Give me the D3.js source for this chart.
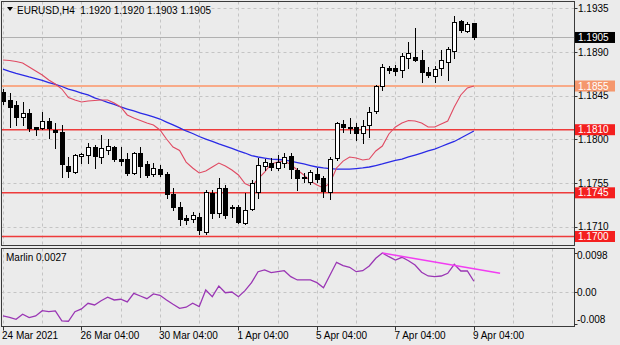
<!DOCTYPE html>
<html><head><meta charset="utf-8">
<script src="https://cdnjs.cloudflare.com/ajax/libs/d3/7.8.5/d3.min.js"></script>
<style>html,body{margin:0;padding:0;background:#ebebeb;} svg{display:block;}</style>
</head><body><svg id="c" width="620" height="345"></svg>
<script>
// ---------- DATA ----------
const symbol = "EURUSD,H4";
const headerOHLC = ["1.1920", "1.1920", "1.1903", "1.1905"];
const open = [1.18488,1.18406,1.18355,1.18231,1.18272,1.18123,1.18118,1.18190,1.18097,1.18076,
1.17726,1.17664,1.17829,1.17839,1.17922,1.17819,1.17891,1.17922,1.17798,1.17798,
1.17654,1.17860,1.17747,1.17644,1.17695,1.17644,1.17438,1.17304,1.17190,1.17179,
1.17201,1.17046,1.17448,1.17242,1.17500,1.17299,1.17304,1.17139,1.17283,1.17459,
1.17726,1.17757,1.17706,1.17757,1.17829,1.17685,1.17618,1.17562,1.17644,1.17603,
1.17459,1.17808,1.18159,1.18118,1.18128,1.18066,1.18149,1.18293,1.18550,1.18736,
1.18736,1.18715,1.18839,1.18849,1.18818,1.18694,1.18653,1.18736,1.18797,1.18911,
1.19220,1.19117,1.19200];
const high = [1.18519,1.18478,1.18396,1.18385,1.18313,1.18128,1.18282,1.18221,1.18169,1.18149,
1.17819,1.17850,1.17860,1.17963,1.17943,1.18046,1.18004,1.17932,1.17922,1.17860,
1.17870,1.17922,1.17777,1.17757,1.17736,1.17664,1.17500,1.17355,1.17221,1.17252,
1.17242,1.17479,1.17479,1.17603,1.17531,1.17325,1.17325,1.17448,1.17582,1.17808,
1.17798,1.17808,1.17839,1.17860,1.17860,1.17706,1.17654,1.17685,1.17706,1.17623,
1.17819,1.18179,1.18200,1.18221,1.18169,1.18200,1.18334,1.18561,1.18777,1.18756,
1.18766,1.18890,1.19003,1.19148,1.18921,1.18746,1.18756,1.18921,1.18952,1.19271,
1.19230,1.19209,1.19200];
const low = [1.18365,1.18128,1.18149,1.18149,1.18087,1.18046,1.18112,1.18015,1.17912,1.17613,
1.17613,1.17654,1.17757,1.17757,1.17706,1.17757,1.17850,1.17777,1.17736,1.17634,
1.17644,1.17613,1.17613,1.17623,1.17623,1.17397,1.17273,1.17118,1.17128,1.17149,
1.17026,1.17026,1.17190,1.17201,1.17190,1.17201,1.17139,1.17128,1.17273,1.17397,
1.17685,1.17685,1.17685,1.17716,1.17603,1.17479,1.17562,1.17541,1.17562,1.17407,
1.17387,1.17788,1.18076,1.18066,1.17994,1.17963,1.18025,1.18272,1.18509,1.18684,
1.18663,1.18643,1.18736,1.18808,1.18591,1.18643,1.18591,1.18663,1.18612,1.18839,
1.19106,1.19106,1.19030];
const close = [1.18396,1.18334,1.18231,1.18272,1.18118,1.18112,1.18190,1.18118,1.18076,1.17747,
1.17675,1.17839,1.17850,1.17922,1.17829,1.17912,1.17932,1.17798,1.17777,1.17654,
1.17860,1.17726,1.17634,1.17706,1.17644,1.17438,1.17304,1.17179,1.17169,1.17221,
1.17067,1.17459,1.17242,1.17500,1.17221,1.17289,1.17149,1.17273,1.17551,1.17736,
1.17767,1.17716,1.17767,1.17819,1.17695,1.17603,1.17608,1.17664,1.17593,1.17469,
1.17798,1.18169,1.18128,1.18128,1.18066,1.18138,1.18282,1.18550,1.18746,1.18715,
1.18705,1.18859,1.18890,1.18818,1.18694,1.18663,1.18725,1.18818,1.18931,1.19209,
1.19127,1.19189,1.19050];
const maFast = [1.18818,1.18813,1.18803,1.18787,1.18746,1.18705,1.18663,1.18612,1.18571,1.18519,
1.18432,1.18406,1.18385,1.18396,1.18401,1.18406,1.18406,1.18375,1.18334,1.18252,
1.18221,1.18195,1.18169,1.18149,1.18097,1.18004,1.17922,1.17886,1.17767,1.17706,
1.17654,1.17675,1.17716,1.17757,1.17726,1.17685,1.17634,1.17546,1.17515,1.17593,
1.17664,1.17747,1.17767,1.17777,1.17742,1.17685,1.17634,1.17572,1.17531,1.17500,
1.17551,1.17706,1.17777,1.17819,1.17808,1.17788,1.17798,1.17881,1.17932,1.18056,
1.18128,1.18169,1.18195,1.18190,1.18169,1.18128,1.18128,1.18159,1.18190,1.18334,
1.18458,1.18530,1.18550];
const maSlow = [1.18725,1.18700,1.18679,1.18663,1.18643,1.18627,1.18607,1.18586,1.18566,1.18545,
1.18519,1.18499,1.18478,1.18458,1.18427,1.18406,1.18381,1.18360,1.18334,1.18313,
1.18293,1.18272,1.18252,1.18231,1.18210,1.18179,1.18149,1.18118,1.18087,1.18061,
1.18030,1.18004,1.17979,1.17953,1.17932,1.17907,1.17881,1.17860,1.17834,1.17819,
1.17808,1.17798,1.17793,1.17788,1.17777,1.17762,1.17747,1.17731,1.17716,1.17706,
1.17700,1.17695,1.17695,1.17695,1.17700,1.17706,1.17716,1.17731,1.17747,1.17767,
1.17783,1.17798,1.17819,1.17839,1.17860,1.17881,1.17901,1.17927,1.17953,1.17979,
1.18015,1.18051,1.18087];
const marlin = [-0.00603,-0.00636,-0.00686,-0.00560,-0.00646,-0.00603,-0.00470,-0.00495,-0.00477,-0.00729,
-0.00736,-0.00495,-0.00427,-0.00284,-0.00327,-0.00219,-0.00133,-0.00201,-0.00183,-0.00251,
-0.00033,-0.00101,-0.00168,-0.00050,-0.00083,-0.00201,-0.00309,-0.00410,-0.00384,-0.00284,
-0.00369,0.00050,-0.00118,0.00151,-0.00018,0.00000,-0.00118,0.00033,0.00234,0.00510,
0.00553,0.00485,0.00510,0.00535,0.00384,0.00302,0.00302,0.00302,0.00234,0.00108,
0.00427,0.00746,0.00661,0.00621,0.00510,0.00535,0.00653,0.00847,0.00980,0.00887,
0.00804,0.00872,0.00786,0.00678,0.00495,0.00402,0.00384,0.00402,0.00470,0.00696,
0.00528,0.00528,0.00270];
const marlinTrendBars = [58, 76];
const marlinTrendValues = [0.0098, 0.0047];
const levelValues = [1.1855, 1.1810, 1.1745, 1.1700];
const levelLabels = ["1.1855", "1.1810", "1.1745", "1.1700"];
const priceTicks = [1.1935, 1.1890, 1.1845, 1.1800, 1.1755, 1.1710];
const priceTickLabels = ["1.1935", "1.1890", "1.1845", "1.1800", "1.1755", "1.1710"];
const currentPrice = 1.1905, currentPriceLabel = "1.1905";
const dateLabelBars = [0, 12, 24, 36, 48, 60, 72];
const dateLabels = ["24 Mar 2021", "26 Mar 04:00", "30 Mar 04:00", "1 Apr 04:00", "5 Apr 04:00", "7 Apr 04:00", "9 Apr 04:00"];
const indTicks = [0.0098, 0, -0.008];
const indTickLabels = ["0.0098", "0.00", "-0.008"];
const indName = "Marlin", indValueLabel = "0.0027";

// ---------- LAYOUT ----------
const svg = d3.select("#c");
const FONT = "'Liberation Sans', Arial, sans-serif";
const L = 1.5, R = 574.5, mainTop = 1.5, mainBot = 245.5, indTop = 248.5, indBot = 326.5;
const x = d3.scaleLinear().domain([0, 72]).range([3, 473.9]);
const y = d3.scaleLinear().domain([1.1700, 1.1935]).range([236.5, 8.35]);
const yi = d3.scaleLinear().domain([-0.008, 0.0098]).range([323.8, 253]);
const lastBar = Math.floor(x.invert(R));
const gridBars = d3.range(0, lastBar + 1, 6);

svg.append("rect").attr("width", 620).attr("height", 345).attr("fill", "#ebebeb");

const defs = svg.append("defs");
defs.append("clipPath").attr("id", "cm").append("rect").attr("x", L).attr("y", mainTop).attr("width", R - L).attr("height", mainBot - mainTop);
defs.append("clipPath").attr("id", "ci").append("rect").attr("x", L).attr("y", indTop).attr("width", R - L).attr("height", indBot - indTop);

// main panel
const gm = svg.append("g").attr("clip-path", "url(#cm)");
const snap = v => Math.round(v) + 0.5;
gm.selectAll(".vg").data(gridBars).join("line")
  .attr("x1", d => snap(x(d))).attr("x2", d => snap(x(d))).attr("y1", mainTop).attr("y2", mainBot)
  .attr("stroke", "#c4c4c4").attr("stroke-dasharray", "3,3");
gm.selectAll(".hg").data(priceTicks).join("line")
  .attr("x1", L).attr("x2", R).attr("y1", d => snap(y(d))).attr("y2", d => snap(y(d)))
  .attr("stroke", "#c4c4c4").attr("stroke-dasharray", "3,3");
gm.append("line").attr("x1", L).attr("x2", R).attr("y1", snap(y(currentPrice))).attr("y2", snap(y(currentPrice)))
  .attr("stroke", "#b0b0b0").attr("stroke-width", 1);
const levelColors = ["#f8aa88", "#ee3b3b", "#ee3b3b", "#ee3b3b"];
gm.selectAll(".lv").data(levelValues).join("line")
  .attr("x1", L).attr("x2", R).attr("y1", d => y(d)).attr("y2", d => y(d))
  .attr("stroke", (d, i) => levelColors[i]).attr("stroke-width", (d, i) => i === 0 ? 2 : 1.6);
const idx = d3.range(open.length);
gm.append("path").datum(idx).attr("fill", "none").attr("stroke", "#2a2ae6").attr("stroke-width", 1.3)
  .attr("d", d3.line().x(i => x(i)).y(i => y(maSlow[i])));
gm.append("path").datum(idx).attr("fill", "none").attr("stroke", "#e04a62").attr("stroke-width", 1.1)
  .attr("d", d3.line().x(i => x(i)).y(i => y(maFast[i])));
const cg = gm.selectAll(".cd").data(idx).join("g");
cg.append("line")
  .attr("x1", i => snap(x(i))).attr("x2", i => snap(x(i)))
  .attr("y1", i => Math.round(y(high[i]))).attr("y2", i => Math.round(y(low[i])) + 1)
  .attr("stroke", "#000");
cg.append("rect")
  .attr("x", i => snap(x(i)) - 2).attr("width", 4)
  .attr("y", i => snap(y(Math.max(open[i], close[i]))))
  .attr("height", i => Math.max(1, Math.round(y(Math.min(open[i], close[i]))) - Math.round(y(Math.max(open[i], close[i])))))
  .attr("fill", i => close[i] >= open[i] ? "#fff" : "#000")
  .attr("stroke", "#000");

// indicator panel
const gi = svg.append("g").attr("clip-path", "url(#ci)");
gi.selectAll(".vg").data(gridBars).join("line")
  .attr("x1", d => snap(x(d))).attr("x2", d => snap(x(d))).attr("y1", indTop).attr("y2", indBot)
  .attr("stroke", "#c4c4c4").attr("stroke-dasharray", "3,3");
gi.append("line").attr("x1", L).attr("x2", R).attr("y1", snap(yi(0))).attr("y2", snap(yi(0)))
  .attr("stroke", "#c4c4c4").attr("stroke-dasharray", "3,3");
gi.append("path").datum(idx).attr("fill", "none").attr("stroke", "#9a36b4").attr("stroke-width", 1.3)
  .attr("d", d3.line().x(i => x(i)).y(i => yi(marlin[i])));
gi.append("line")
  .attr("x1", x(marlinTrendBars[0])).attr("y1", yi(marlinTrendValues[0]))
  .attr("x2", x(marlinTrendBars[1])).attr("y2", yi(marlinTrendValues[1]))
  .attr("stroke", "#f23cf2").attr("stroke-width", 1.5);

// borders
[[mainTop, mainBot], [indTop, indBot]].forEach(([t, b]) => {
  svg.append("rect").attr("x", L).attr("y", t).attr("width", R - L).attr("height", b - t)
    .attr("fill", "none").attr("stroke", "#3a3a3a");
});

// header
svg.append("path").attr("d", "M7,7 L13,7 L10,11 Z").attr("fill", "#000");
svg.append("text").attr("x", 17).attr("y", 14).attr("font-family", FONT).attr("font-size", 10)
  .attr("fill", "#000").attr("xml:space", "preserve")
  .text(symbol + "  " + headerOHLC.join(" "));
svg.append("text").attr("x", 6).attr("y", 261).attr("font-family", FONT).attr("font-size", 10)
  .attr("fill", "#000").text(indName + " " + indValueLabel);

// right price axis
const ra = svg.append("g");
ra.selectAll(".tk").data(priceTicks).join("line")
  .attr("x1", R).attr("x2", R + 3).attr("y1", d => snap(y(d))).attr("y2", d => snap(y(d))).attr("stroke", "#333");
ra.selectAll(".tl").data(priceTicks).join("text")
  .attr("x", 578).attr("y", d => y(d) + 3.5).attr("font-family", FONT).attr("font-size", 10).attr("fill", "#000")
  .text((d, i) => priceTickLabels[i]);
const boxColors = ["#f5976d", "#f41f1f", "#f41f1f", "#f41f1f"];
const boxes = levelValues.map((v, i) => ({v, lab: levelLabels[i], col: boxColors[i]}))
  .concat([{v: currentPrice, lab: currentPriceLabel, col: "#000"}]);
const bx = ra.selectAll(".bx").data(boxes).join("g");
bx.append("rect").attr("x", 575).attr("y", d => y(d.v) - 5.5).attr("width", 40).attr("height", 11).attr("fill", d => d.col);
bx.append("text").attr("x", 578).attr("y", d => y(d.v) + 3.5).attr("font-family", FONT).attr("font-size", 10)
  .attr("fill", "#fff").text(d => d.lab);

// indicator axis
ra.selectAll(".itk").data(indTicks).join("line")
  .attr("x1", R).attr("x2", R + 3).attr("y1", d => snap(yi(d))).attr("y2", d => snap(yi(d))).attr("stroke", "#333");
const indLabelY = [255, 292, 319];
ra.selectAll(".itl").data(indTicks).join("text")
  .attr("x", 577).attr("y", (d, i) => indLabelY[i] + 3.5).attr("font-family", FONT).attr("font-size", 10).attr("fill", "#000")
  .text((d, i) => indTickLabels[i]);

// bottom date axis
const ba = svg.append("g");
ba.selectAll(".bt").data(dateLabelBars).join("line")
  .attr("x1", d => snap(x(d))).attr("x2", d => snap(x(d))).attr("y1", indBot).attr("y2", indBot + 4).attr("stroke", "#333");
ba.selectAll(".bl").data(dateLabelBars).join("text")
  .attr("x", d => Math.max(2, x(d) - 1)).attr("y", 339).attr("font-family", FONT).attr("font-size", 10).attr("fill", "#000")
  .text((d, i) => dateLabels[i]);
</script></body></html>
